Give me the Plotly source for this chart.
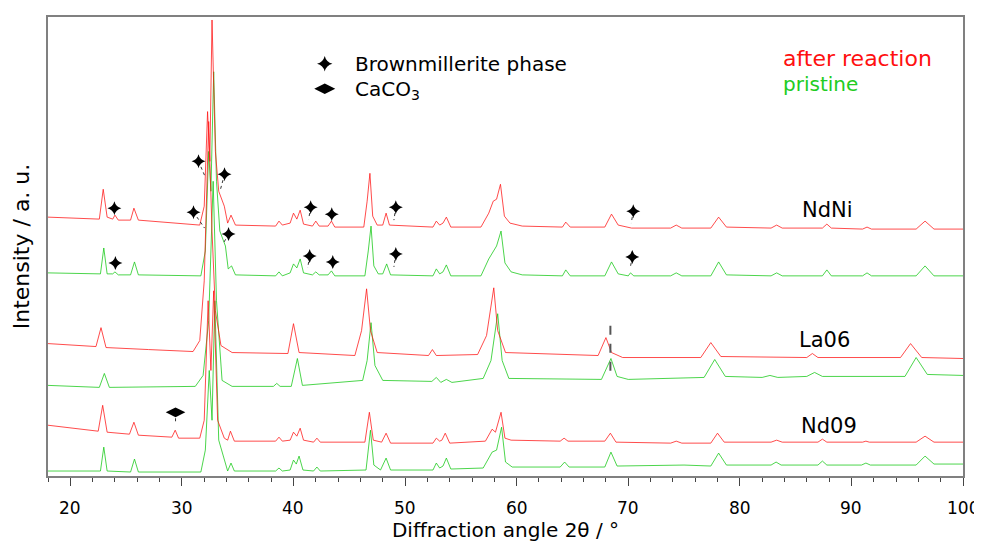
import plotly.graph_objects as go

# ---- XRD patterns (2theta, intensity a.u., stacked) ----
ndni_after = [(18,260),(22.6,258),(22.95,288),(23.3,260),(23.8,258),(24.0,262),(24.3,257),(25.4,257),(25.7,269),(26.1,257),
    (31.6,252),(32.0,271),(32.3,366),(32.5,316),(32.7,458),(33.0,326),(33.3,286),(33.8,271),(34.1,254),(34.4,262),(34.8,252),
    (38.4,251),(38.7,256),(39.0,252),(39.7,254),(40.0,264),(40.3,258),(40.6,267),(40.9,253),(41.7,251),(42.0,256),(42.3,251),
    (43.1,251),(43.4,256),(43.7,250),(46.3,250),(46.6,276),(46.85,304),(47.1,261),(47.5,252),(48.0,252),(48.3,264),(48.6,252),
    (52.5,250),(52.8,256),(53.1,252),(53.4,254),(53.7,260),(54.1,250),(56.8,250),(57.5,264),(57.9,276),(58.2,278),(58.55,293),
    (58.9,261),(59.4,254),(60.5,251),(64.1,250),(64.4,255),(64.8,250),(67.9,250),(68.5,263),(69.1,252),(70.3,249),(73.8,249),
    (74.3,252),(74.8,249),(77.4,249),(78.1,260),(78.8,250),(82.8,249),(83.3,252),(83.8,249),(87.4,249),(87.8,253),(88.2,249),
    (91.0,248),(91.4,250),(91.8,248),(95.8,248),(96.6,256),(97.4,248),(100,248)]

ndni_pristine = [(18,204),(22.7,203),(23.0,229),(23.3,203),(23.8,203),(24.0,205),(24.3,202),(25.4,202),(25.75,215),(26.1,202),
    (31.7,201),(32.1,226),(32.4,326),(32.6,286),(32.85,406),(33.1,296),(33.4,246),(33.9,231),(34.15,208),(34.45,211),(34.8,202),
    (38.4,201),(38.7,205),(39.0,201),(39.7,204),(40.0,213),(40.3,209),(40.6,218),(40.9,204),(41.7,202),(42.0,205),(42.3,202),
    (43.1,202),(43.4,206),(43.7,201),(46.4,201),(46.7,226),(46.95,251),(47.2,211),(47.6,203),(48.0,203),(48.35,213),(48.7,202),
    (52.5,201),(52.8,208),(53.1,203),(53.4,205),(53.7,212),(54.1,201),(56.8,201),(57.5,218),(57.9,226),(58.2,231),(58.6,246),
    (58.95,214),(59.5,205),(60.5,202),(64.1,201),(64.4,207),(64.8,201),(67.9,201),(68.5,215),(69.1,203),(70.0,201),(70.2,204),
    (70.5,201),(73.8,201),(74.3,204),(74.8,201),(77.4,201),(78.1,215),(78.8,202),(82.8,201),(83.3,204),(83.8,201),(87.4,201),
    (87.8,207),(88.2,201),(91.0,201),(91.4,204),(91.8,201),(95.8,201),(96.6,211),(97.4,201),(100,201)]

la06_after = [(18,133),(22.3,130),(22.75,149),(23.2,129),(27,127),(31.0,125),(31.6,136),(32.0,196),(32.4,356),(32.7,246),
    (33.0,166),(33.5,131),(34.5,124),(39.5,123),(40.0,153),(40.5,124),(45.5,121),(46.1,146),(46.55,188),(46.9,146),(47.5,124),
    (52.1,121),(52.45,127),(52.8,121),(56.5,122),(57.3,141),(57.95,189),(58.3,146),(59.0,124),(67.3,121),(68.0,139),(68.5,124),
    (69.5,119),(76.5,119),(77.4,134),(78.3,120),(86.0,119),(86.5,123),(87.0,119),(94.4,119),(95.3,133),(96.3,119),(100,118)]

la06_pristine = [(18,91),(22.6,89),(23.05,103),(23.5,89),(31.2,90),(31.9,101),(32.4,156),(32.8,296),(33.1,176),(33.6,96),
    (34.5,90),(38.2,90),(38.5,93),(38.8,90),(39.8,90),(40.35,118),(40.8,91),(46.2,96),(46.6,116),(46.95,154),(47.3,111),
    (48.0,96),(52.4,95),(52.8,99),(53.2,94),(53.7,97),(54.2,94),(57.0,98),(57.7,116),(58.3,163),(58.7,116),(59.3,98),
    (67.6,97),(68.45,118),(69.0,100),(70,97),(76.8,99),(77.75,117),(78.7,100),(82.0,99),(82.7,101),(83.4,99),(86.0,100),
    (86.7,104),(87.4,100),(94.8,100),(95.8,119),(96.8,102),(100,101)]

nd09_after = [(18,51),(22.5,45),(22.9,71),(23.3,44),(25.3,42),(25.7,54),(26.1,41),(29.1,39),(29.4,46),(29.7,38),(31.6,38),
    (32.0,56),(32.35,176),(32.6,106),(32.85,186),(33.2,56),(33.8,38),(34.1,36),(34.35,45),(34.7,35),(38.4,35),(38.7,39),
    (39.0,35),(39.7,36),(40.0,44),(40.3,40),(40.6,48),(40.9,36),(41.8,34),(42.1,38),(42.4,34),(46.4,34),(46.8,64),(47.15,36),
    (47.9,34),(48.3,43),(48.7,33),(52.5,33),(52.8,38),(53.1,35),(53.3,36),(53.6,43),(54.0,33),(57.2,35),(57.8,47),(58.1,44),
    (58.6,64),(58.95,38),(59.5,36),(63.9,35),(64.25,38),(64.6,35),(67.9,35),(68.4,43),(68.9,34),(73.8,33),(74.3,35),(74.8,33),
    (77.4,33),(78.0,43),(78.6,34),(82.8,34),(83.3,36),(83.8,34),(87.0,34),(87.4,37),(87.8,34),(91.0,34),(91.3,35),(91.6,34),
    (95.8,34),(96.6,40),(97.4,34),(100,34)]

nd09_pristine = [(18,5),(22.7,5),(23.0,29),(23.3,5),(25.4,4),(25.75,17),(26.1,4),(31.7,4),(32.1,26),(32.45,106),(32.7,56),
    (32.95,176),(33.3,36),(34.1,5),(34.4,13),(34.7,5),(38.4,5),(38.7,8),(39.0,5),(39.7,6),(40.0,16),(40.25,12),(40.5,20),
    (40.85,6),(41.8,5),(42.1,9),(42.4,5),(46.5,6),(46.9,46),(47.2,11),(47.8,6),(48.3,18),(48.7,6),(52.5,6),(52.8,13),(53.1,8),
    (53.4,10),(53.7,18),(54.1,7),(57.0,8),(57.8,24),(58.2,26),(58.65,49),(59.0,14),(59.6,9),(63.9,9),(64.3,14),(64.7,9),
    (67.9,9),(68.45,24),(69.0,10),(74.3,11),(75.0,11),(77.4,10),(78.1,23),(78.8,11),(82.8,11),(83.25,14),(83.7,11),(87.0,11),
    (87.4,15),(87.8,11),(90.9,11),(91.3,13),(91.7,11),(95.8,11),(96.6,20),(97.4,12),(100,12)]

# ---- phase markers: (2theta, intensity) of marker, and leader-line tip (or None) ----
brownmillerite_marks = [(31.49,316),(33.82,303),(31.04,265),(34.18,243),(23.95,269),(24.04,214),(41.54,270),(43.43,263),
    (41.45,221),(43.52,215),(49.17,270),(49.17,223),(70.45,266),(70.36,220)]
brownmillerite_tips = [(32.03,302),(33.46,288),(32.03,249),(33.73,234),None,None,(41.36,258),None,
    (41.27,209),None,(49.0,257),(49.0,210),(70.27,254),(70.18,209)]
caco3_marks = [(29.43,64)]
caco3_tips = [(29.43,52)]

reference_line = [(68.4,151),(68.4,99)]

sample_labels = ["NdNi", "La06", "Nd09"]
sample_label_pos = [(87.9,267),(87.6,137),(88.0,50)]

x_ticks = [20, 30, 40, 50, 60, 70, 80, 90, 100]
x_tick_labels = ["20", "30", "40", "50", "60", "70", "80", "90", "100"]

RED = "rgba(255,20,20,0.85)"
GREEN = "rgba(20,200,20,0.85)"
FONT = "DejaVu Sans"

fig = go.Figure()

def add_pattern(data, color):
    fig.add_trace(go.Scatter(x=[p[0] for p in data], y=[p[1] for p in data], mode="lines",
                             line=dict(color=color, width=0.9), showlegend=False, hoverinfo="skip"))

for d in (nd09_pristine, la06_pristine, ndni_pristine):
    add_pattern(d, GREEN)
for d in (nd09_after, la06_after, ndni_after):
    add_pattern(d, RED)

# leader lines
lx, ly = [], []
for m, t in list(zip(brownmillerite_marks, brownmillerite_tips)) + list(zip(caco3_marks, caco3_tips)):
    if t is None:
        continue
    lx += [m[0], t[0], None]
    ly += [m[1], t[1], None]
fig.add_trace(go.Scatter(x=lx, y=ly, mode="lines", line=dict(color="#333333", width=1, dash="dot"),
                         showlegend=False, hoverinfo="skip"))

fig.add_trace(go.Scatter(x=[p[0] for p in reference_line], y=[p[1] for p in reference_line], mode="lines",
                         line=dict(color="#555555", width=2, dash="dash"), showlegend=False, hoverinfo="skip"))

fig.add_trace(go.Scatter(x=[p[0] for p in brownmillerite_marks], y=[p[1] for p in brownmillerite_marks], mode="markers",
                         marker=dict(symbol="star-diamond", size=10, color="black"), showlegend=False, hoverinfo="skip"))
fig.add_trace(go.Scatter(x=[p[0] for p in caco3_marks], y=[p[1] for p in caco3_marks], mode="markers",
                         marker=dict(symbol="diamond-wide", size=14, color="black"), showlegend=False, hoverinfo="skip"))

# legend-like keys
fig.add_trace(go.Scatter(x=[42.8], y=[414], mode="markers", marker=dict(symbol="star-diamond", size=11, color="black"),
                         showlegend=False, hoverinfo="skip"))
fig.add_trace(go.Scatter(x=[42.8], y=[389], mode="markers", marker=dict(symbol="diamond-wide", size=15, color="black"),
                         showlegend=False, hoverinfo="skip"))

ann = [
    dict(x=45.3, y=414, text="Brownmillerite phase", xanchor="left", font=dict(size=20, color="black", family=FONT)),
    dict(x=45.3, y=388, text="CaCO<sub>3</sub>", xanchor="left", font=dict(size=20, color="black", family=FONT)),
    dict(x=83.7, y=419, text="after reaction", xanchor="left", font=dict(size=22, color="#ff1010", family=FONT)),
    dict(x=83.7, y=394, text="pristine", xanchor="left", font=dict(size=20, color="#22cc22", family=FONT)),
]
for name, (px, py) in zip(sample_labels, sample_label_pos):
    ann.append(dict(x=px, y=py, text=name, xanchor="center", font=dict(size=21, color="black", family=FONT)))
for a in ann:
    a.update(showarrow=False, xref="x", yref="y", yanchor="middle")
# x tick labels placed a little further below the axis, as in the reference
for tv, tl in zip(x_ticks, x_tick_labels):
    ann.append(dict(x=tv, y=0, xref="x", yref="paper", text=tl, showarrow=False, xanchor="center",
                    yanchor="middle", yshift=-32, font=dict(size=17, color="black", family=FONT)))

fig.update_layout(
    width=982, height=545, margin=dict(l=40, r=27, t=7, b=77),
    plot_bgcolor="white", paper_bgcolor="white",
    font=dict(family=FONT, color="black"),
    annotations=ann,
    xaxis=dict(range=[18, 100], tickvals=x_ticks, ticktext=x_tick_labels, showticklabels=False,
               ticks="outside", ticklen=8, tickwidth=1, tickcolor="#444",
               showline=True, linecolor="#808080", linewidth=2, mirror=True, showgrid=False, zeroline=False,
               minor=dict(dtick=2, ticks="outside", ticklen=4, tickcolor="#444", showgrid=False),
               title=dict(text="Diffraction angle 2θ / °", font=dict(size=20, family=FONT), standoff=38)),
    yaxis=dict(range=[0, 461], showticklabels=False, ticks="", showline=True, linecolor="#808080", linewidth=2,
               mirror=True, showgrid=False, zeroline=False,
               title=dict(text="Intensity / a. u.", font=dict(size=22, family=FONT), standoff=10)),
)

fig.write_html("out.html")
